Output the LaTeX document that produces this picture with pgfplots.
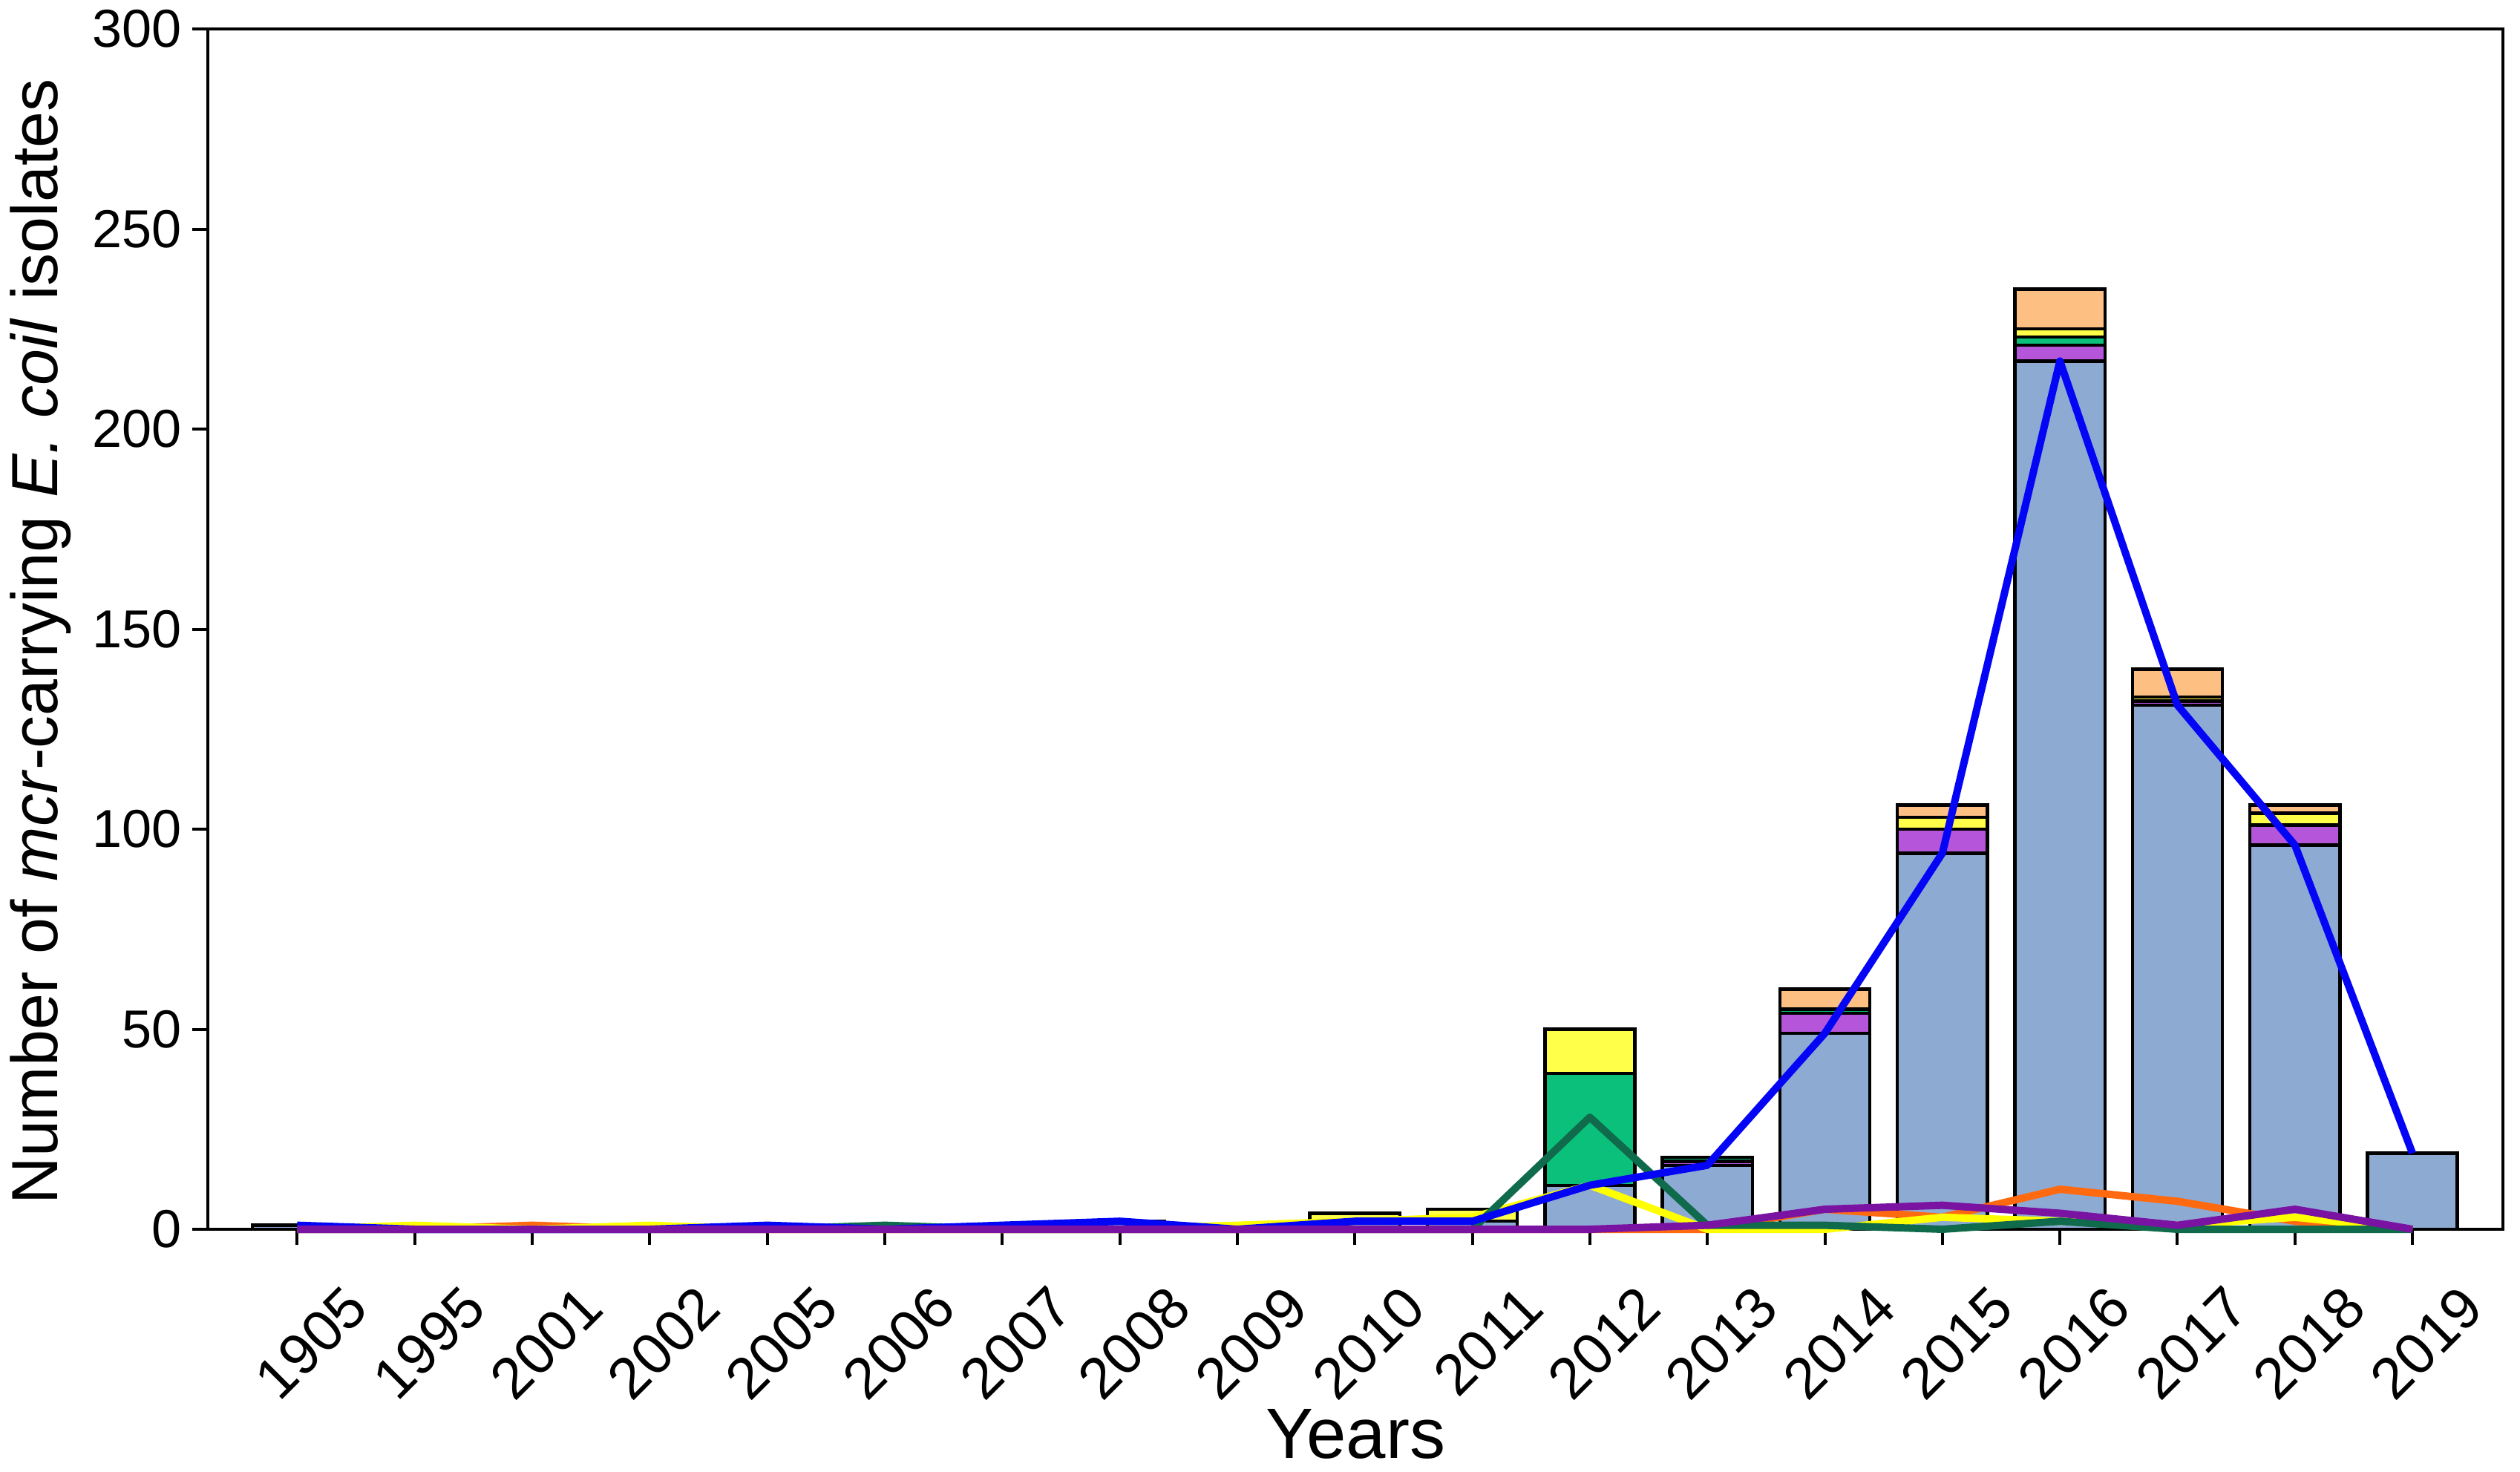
\documentclass[border=0pt]{standalone}
\usepackage{fontspec}
\setmainfont{Liberation Sans}
\usepackage{pgfplots}
\usepackage{pgfplotstable}
\pgfplotsset{compat=1.18}

\definecolor{barB}{HTML}{8DAAD3}
\definecolor{barP}{HTML}{B455DA}
\definecolor{barG}{HTML}{0BC07A}
\definecolor{barY}{HTML}{FFFF4A}
\definecolor{barO}{HTML}{FEBF82}
\definecolor{lnB}{HTML}{0505F5}
\definecolor{lnP}{HTML}{7A12A2}
\definecolor{lnG}{HTML}{0F6B4B}
\definecolor{lnY}{HTML}{FFFF00}
\definecolor{lnO}{HTML}{FF6A10}

\pgfplotstableread{
x B P G Y O
0 1 0 0 0 0
1 0 0 0 1 0
2 0 0 0 0 1
3 0 0 0 1 0
4 1 0 0 0 0
5 0 0 1 0 0
6 1 0 0 0 0
7 2 0 0 0 0
8 0 0 0 1 0
9 2 0 0 2 0
10 2 0 0 3 0
11 11 0 28 11 0
12 16 1 1 0 0
13 49 5 1 0 5
14 94 6 0 3 3
15 217 4 2 2 10
16 131 1 0 1 7
17 96 5 0 3 2
18 19 0 0 0 0
}\datatable

\pgfplotsset{
  common/.style={
    scale only axis, width=773pt, height=404.25pt,
    xmin=-0.76, xmax=18.77, ymin=0, ymax=300,
  }
}

\begin{document}
\begin{tikzpicture}
\useasboundingbox (-70pt,-81.5pt) rectangle (778.75pt,414pt);
\begin{axis}[
  common,
  name=main,
  ybar stacked, bar width=0.765,
  xtick={0,...,18},
  xticklabels={1905,1995,2001,2002,2005,2006,2007,2008,2009,2010,2011,2012,2013,2014,2015,2016,2017,2018,2019},
  ytick={0,50,...,300},
  tick align=outside, tick pos=left,
  major tick length=5.3pt,
  every tick/.style={black, line width=1pt},
  axis line style={line width=1.1pt},
  tick label style={font=\fontsize{18}{21}\selectfont},
  /pgf/number format/assume math mode=true,
  xticklabel style={font=\fontsize{19.5}{22}\selectfont, rotate=45, anchor=north east, inner sep=0pt, xshift=2pt, yshift=-19.5pt},
  every axis plot/.append style={draw=black, line width=1.1pt},
]
\addplot[fill=barB] table[x=x,y=B]{\datatable};
\addplot[fill=barP] table[x=x,y=P]{\datatable};
\addplot[fill=barG] table[x=x,y=G]{\datatable};
\addplot[fill=barY] table[x=x,y=Y]{\datatable};
\addplot[fill=barO] table[x=x,y=O]{\datatable};
\end{axis}
\begin{axis}[
  common,
  hide axis, clip=false,
  every axis plot/.append style={line width=2.5pt, line join=round, mark=none},
]
\addplot[lnO] table[x=x,y=O]{\datatable};
\addplot[lnY] table[x=x,y=Y]{\datatable};
\addplot[lnG] table[x=x,y=G]{\datatable};
\addplot[lnB] table[x=x,y=B]{\datatable};
\addplot[lnP] table[x=x,y=P]{\datatable};
\end{axis}
\node[rotate=90, anchor=base, font=\fontsize{22}{26}\selectfont] at ([xshift=-50.5pt,yshift=-4.25pt]main.west) {Number of \textit{mcr}-carrying \textit{E. coil} isolates};
\node[anchor=base, font=\fontsize{24}{28}\selectfont] at ([yshift=-77pt]main.south) {Years};
\end{tikzpicture}
\end{document}
